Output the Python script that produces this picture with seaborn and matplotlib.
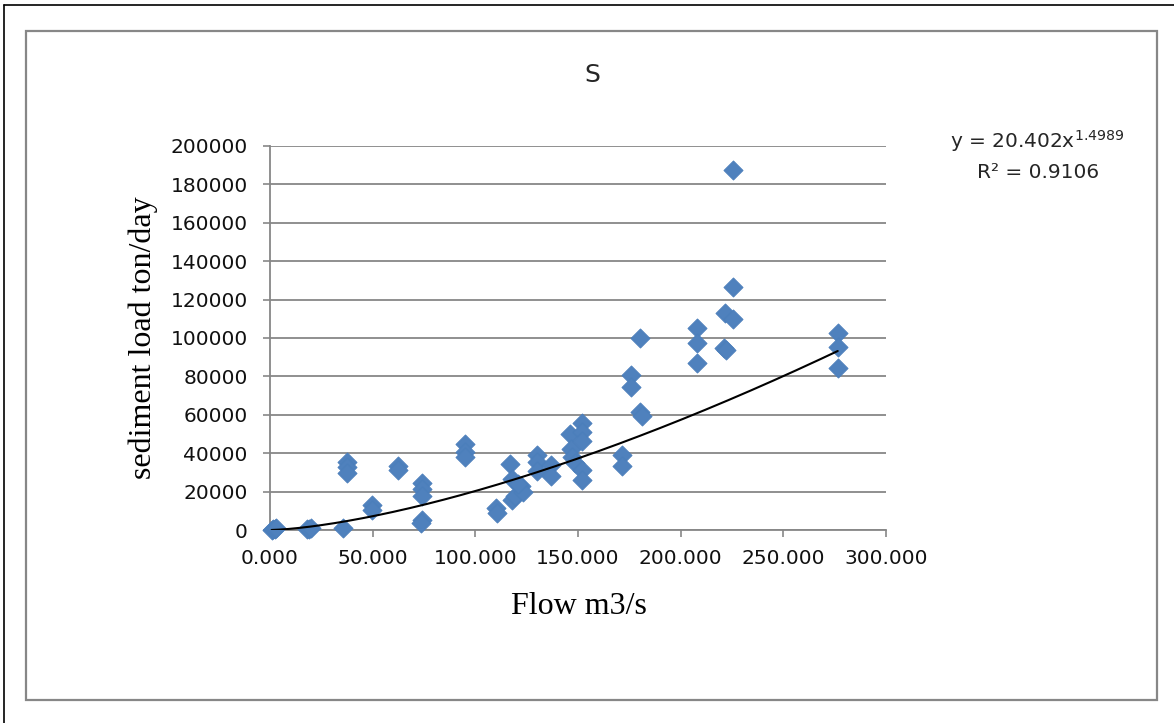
import numpy as np
import pandas as pd
import matplotlib
matplotlib.use("Agg")
import matplotlib.pyplot as plt
from matplotlib.lines import Line2D
from matplotlib.patches import Rectangle
import seaborn as sns

# Observed discharge (m3/s) and sediment load (ton/day)
flow = [0.8, 1.5, 2.5, 3.0,
        18.0, 19.0, 20.0,
        35.5,
        37.5, 37.5, 37.5,
        49.7, 49.7,
        62.5, 62.5,
        73.8, 73.8, 73.8, 73.8, 73.5,
        95.0, 95.0, 95.0,
        110.0, 110.5,
        117.0, 118.0, 118.0, 119.5, 122.0, 123.0, 121.0,
        130.0, 130.0, 130.0,
        137.0, 137.0,
        146.0, 146.5, 147.0, 148.5,
        152.0, 152.0, 152.0, 152.0, 152.0,
        171.5, 171.5,
        176.0, 176.0,
        180.0, 180.0, 181.0,
        208.0, 208.0, 208.0,
        221.5, 221.0, 222.0,
        225.5, 225.5, 225.5,
        276.5, 276.5, 276.5]
load = [200, 300, 500, 800,
        300, 600, 900,
        1200,
        35500, 33000, 29500,
        12800, 10500,
        33500, 31000,
        24500, 21500, 17500, 5000, 3500,
        45000, 40500, 38000,
        11500, 9000,
        34500, 26500, 15500, 17500, 23000, 20000, 24000,
        39000, 35500, 30500,
        34000, 28000,
        50000, 42000, 38000, 35000,
        55500, 51000, 46500, 31000, 26000,
        39000, 33500,
        80500, 74500,
        100000, 61500, 59500,
        105000, 97500, 87000,
        113000, 95000, 93500,
        187500, 126500, 110000,
        102500, 95500, 84500]

# Power-law trendline y = a * x^b
coef_a = 20.402
coef_b = 1.4989
r_squared = 0.9106

x_ticks = [0, 50, 100, 150, 200, 250, 300]
x_tick_labels = ["0.000", "50.000", "100.000", "150.000", "200.000", "250.000", "300.000"]
y_ticks = [0, 20000, 40000, 60000, 80000, 100000, 120000, 140000, 160000, 180000, 200000]
y_tick_labels = [str(v) for v in y_ticks]

W, H = 1174, 723
sns.set_theme(style="white")
plt.rcParams['font.family'] = ['DejaVu Sans']

fig = plt.figure(figsize=(W / 100, H / 100), dpi=100)
fig.patch.set_facecolor("white")

grey = "#878787"
ax = fig.add_axes([270 / W, 1 - 530 / H, 616 / W, 384 / H])

df = pd.DataFrame({"flow": flow, "load": load})
sns.scatterplot(data=df, x="flow", y="load", marker="D", s=95,
                color="#4F81BD", edgecolor="#4A7EBB", linewidth=0.6,
                ax=ax, zorder=3, clip_on=False, legend=False)

xs = np.linspace(min(flow), max(flow), 300)
fit = pd.DataFrame({"flow": xs, "load": coef_a * xs ** coef_b})
sns.lineplot(data=fit, x="flow", y="load", color="black", lw=1.5,
             ax=ax, zorder=4, legend=False)

ax.set_xlim(0, 300)
ax.set_ylim(0, 200000)
ax.set_xticks(x_ticks)
ax.set_xticklabels(x_tick_labels)
ax.set_yticks(y_ticks)
ax.set_yticklabels(y_tick_labels)
ax.tick_params(axis="both", direction="out", length=5, width=1.2, color=grey,
               labelsize=14.5, labelcolor="#111111", bottom=True, left=True)
ax.tick_params(axis="x", pad=9)
ax.tick_params(axis="y", pad=11)

ax.yaxis.grid(True, color=grey, lw=1.3)
ax.xaxis.grid(False)
ax.set_axisbelow(True)
for side in ("top", "right"):
    ax.spines[side].set_visible(False)
for side in ("left", "bottom"):
    ax.spines[side].set_color(grey)
    ax.spines[side].set_linewidth(1.3)

ax.set_xlabel("Flow m3/s", fontfamily="Liberation Serif", fontsize=23, color="black")
ax.set_ylabel("sediment load ton/day", fontfamily="Liberation Serif", fontsize=23, color="black")
ax.xaxis.set_label_coords((579 - 270) / 616, (530 - 607) / 384)
ax.xaxis.label.set_va("center")
ax.yaxis.set_label_coords((143 - 270) / 616, (530 - 338) / 384)
ax.yaxis.label.set_va("center")

fig.text(592 / W, 1 - 75 / H, "S", ha="center", va="center", fontsize=18)
fig.text(1037 / W, 1 - 141 / H,
         r"y = %.3fx$^{\mathregular{%.4f}}$" % (coef_a, coef_b),
         ha="center", va="center", fontsize=14.5)
fig.text(1038 / W, 1 - 173 / H, "R\u00b2 = %.4f" % r_squared,
         ha="center", va="center", fontsize=14.5)

# Chart area border and outer frame
fig.add_artist(Rectangle((26 / W, 1 - 700 / H), (1157 - 26) / W, (700 - 31) / H,
                         transform=fig.transFigure, fill=False,
                         edgecolor=grey, lw=1.6))
fig.add_artist(Line2D([4 / W, 1], [1 - 5 / H, 1 - 5 / H],
                      transform=fig.transFigure, color="black", lw=1.2))
fig.add_artist(Line2D([4 / W, 4 / W], [0, 1 - 5 / H],
                      transform=fig.transFigure, color="black", lw=1.2))

fig.savefig("out.png", dpi=100)
